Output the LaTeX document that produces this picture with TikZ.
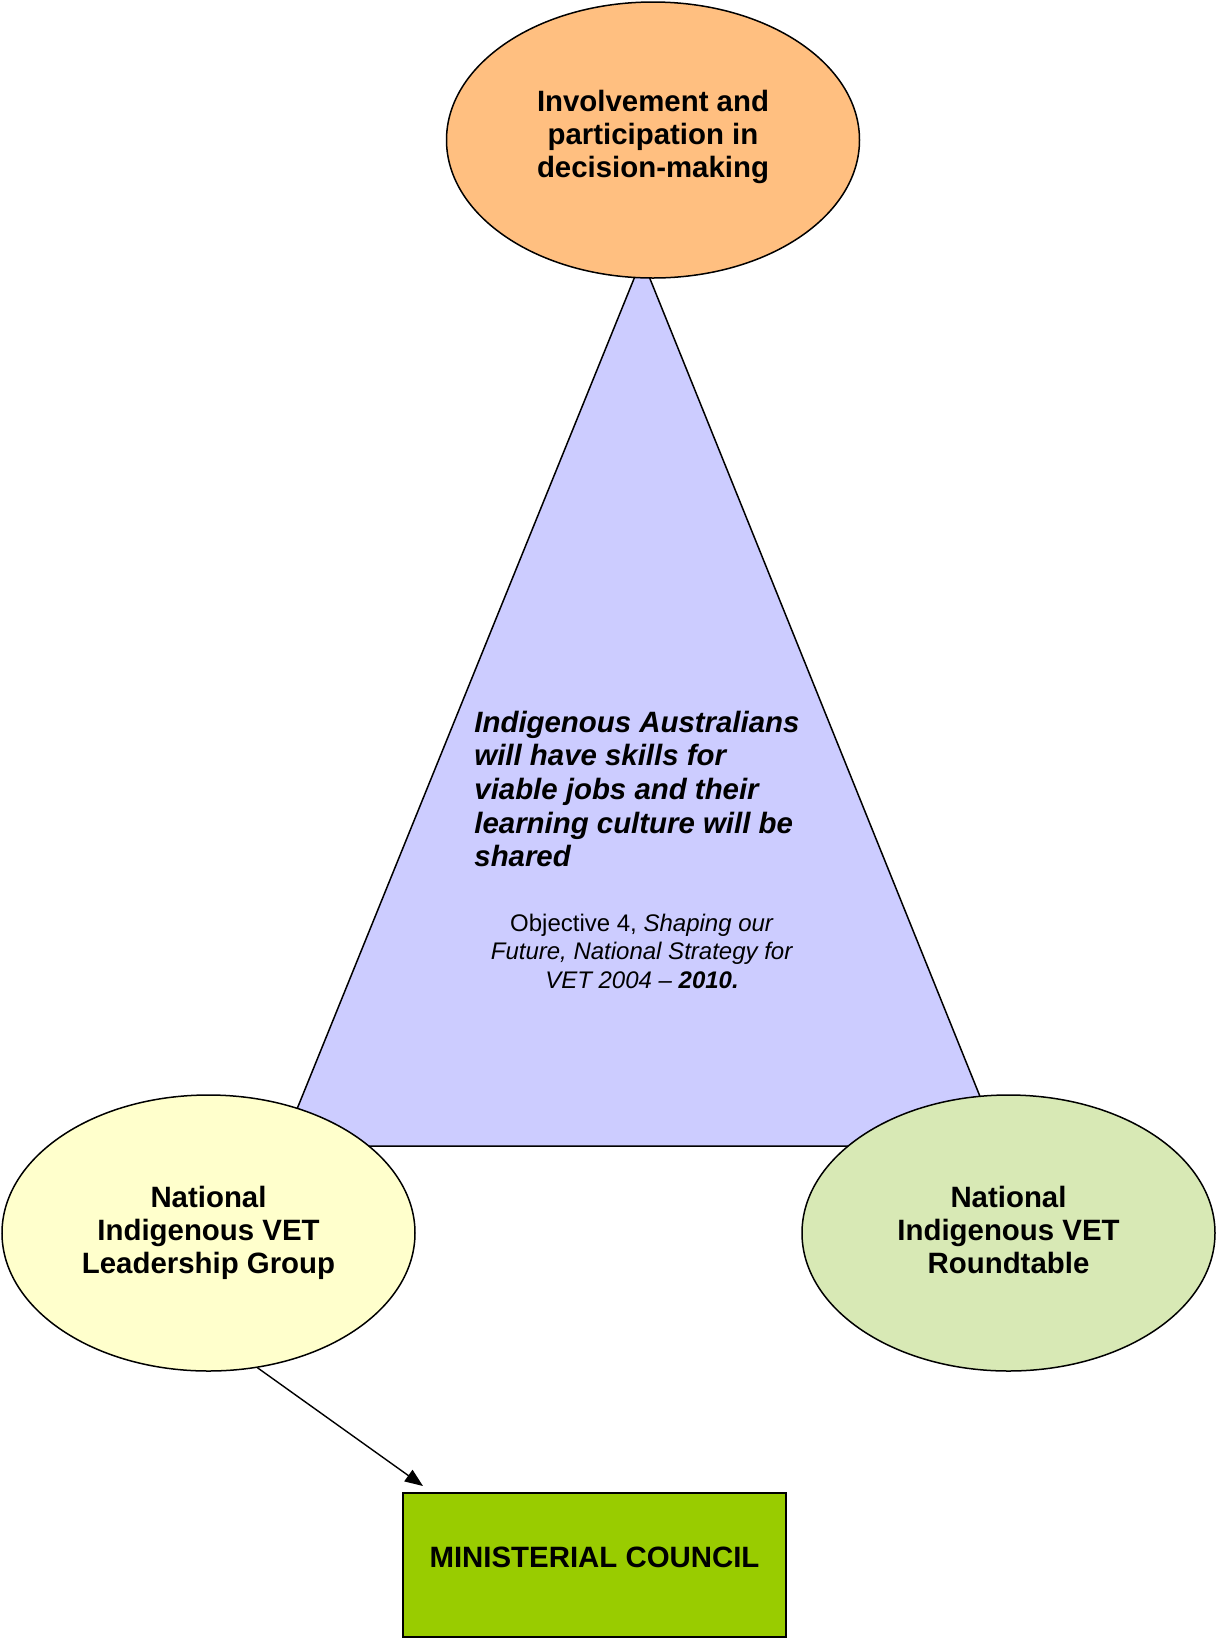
\documentclass[tikz,border=0pt]{standalone}
\usepackage{fontspec}
\setmainfont{Liberation Sans}
\usetikzlibrary{shapes.geometric,arrows.meta}

\definecolor{decisionfill}{RGB}{255,191,128}
\definecolor{goalfill}{RGB}{204,204,255}
\definecolor{leadfill}{RGB}{255,255,204}
\definecolor{roundfill}{RGB}{216,233,181}
\definecolor{councilfill}{RGB}{153,204,0}

\begin{document}
\begin{tikzpicture}[x=0.5pt,y=-0.5pt,
  bubble/.style={ellipse,draw,line width=0.75pt,inner sep=0pt,
    minimum width=206.5pt,minimum height=138pt,align=center,
    font=\fontsize{14.7}{16.6}\selectfont\bfseries},
  link/.style={line width=0.7pt,-{Triangle[length=9pt,width=7pt]}}]
\useasboundingbox (0,0) rectangle (1216,1640);

\draw [fill=goalfill,line width=0.75pt] (642,259) -- (282,1146) -- (1000,1146) -- cycle; 
\node (goal) [anchor=west,inner sep=0pt,align=left,
  font=\fontsize{14.7}{16.8}\selectfont\bfseries\itshape] at (474,789)
  {Indigenous Australians\\will have skills for\\viable jobs and their\\learning
   culture will be\\shared};
\node (source) [inner sep=0pt,align=center,font=\fontsize{12}{14.25}\selectfont]
  at (642,951) {Objective 4, \textit{Shaping our}\\\textit{Future, National
  Strategy for}\\\textit{VET 2004 -- \textbf{2010.}}};

\node (decision) [bubble,fill=decisionfill] at (653,140) {Involvement and\\participation
  in\\decision-making\\[-10.5pt]}; 
\node (lead) [bubble,fill=leadfill] at (208.5,1233) {National\\Indigenous VET\\Leadership
  Group}; 
\node (round) [bubble,fill=roundfill] at (1008.5,1233) {National\\Indigenous
  VET\\Roundtable\vphantom{p}}; 

\node (council) [rectangle,draw,line width=0.75pt,fill=councilfill,minimum width=191.5pt,
  minimum height=72pt,text depth=7.5pt,font=\fontsize{14.7}{16.6}\selectfont\bfseries]
  at (594.5,1565) {MINISTERIAL COUNCIL}; 
\coordinate (tip) at (423,1486); 
\draw [link] (lead.-70) -- (tip); 
\end{tikzpicture}
\end{document}
